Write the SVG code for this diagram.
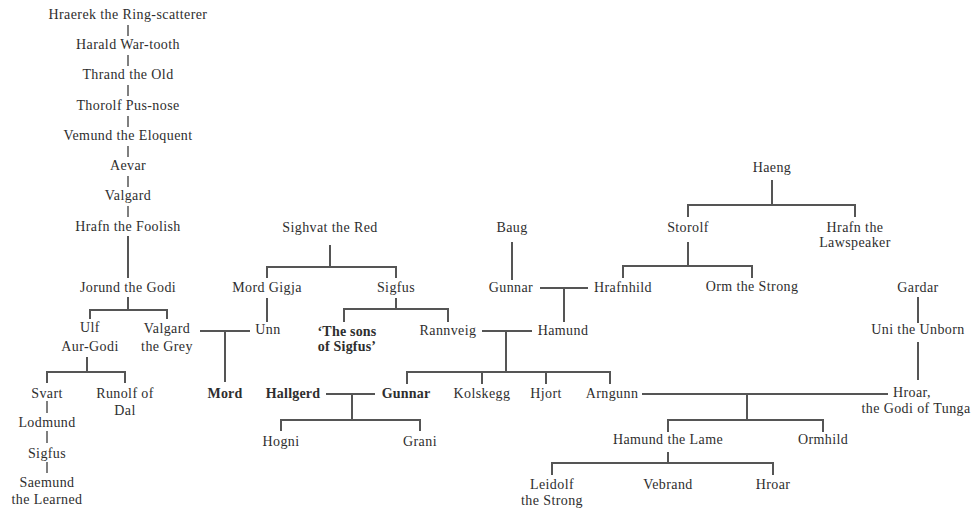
<svg xmlns="http://www.w3.org/2000/svg" width="974" height="510" viewBox="0 0 974 510">
<style>
text{font-family:"Liberation Serif","Times New Roman",serif;font-size:14px;letter-spacing:0.4px;fill:#2e2e2e;text-anchor:middle}
.b{font-weight:bold;letter-spacing:0.2px}
.c line{stroke:#555;stroke-width:2}
.c polyline{fill:none;stroke:#555;stroke-width:2}
.c .t{stroke-width:1.5}
</style>
<rect width="974" height="510" fill="#fff"/>
<g class="c" id="connectors">
<line class="t" x1="128" y1="25" x2="128" y2="36"/>
<line class="t" x1="128" y1="55" x2="128" y2="66"/>
<line class="t" x1="128" y1="85" x2="128" y2="96"/>
<line class="t" x1="128" y1="116" x2="128" y2="127"/>
<line class="t" x1="128" y1="146" x2="128" y2="157"/>
<line class="t" x1="128" y1="176" x2="128" y2="187"/>
<line class="t" x1="128" y1="206" x2="128" y2="217"/>
<line x1="128" y1="236" x2="128" y2="278"/>
<line x1="128" y1="297" x2="128" y2="310"/>
<polyline points="90,319 90,310 167,310 167,319"/>
<line x1="87" y1="357" x2="87" y2="372"/>
<polyline points="47,383 47,372 125,372 125,383"/>
<line class="t" x1="47" y1="401" x2="47" y2="413"/>
<line class="t" x1="47" y1="431" x2="47" y2="443"/>
<line class="t" x1="47" y1="462" x2="47" y2="473"/>
<line x1="200" y1="331" x2="250" y2="331"/>
<line x1="225" y1="331" x2="225" y2="382"/>
<line x1="267" y1="298" x2="267" y2="322"/>
<line x1="330" y1="245" x2="330" y2="267"/>
<polyline points="267,278 267,267 396,267 396,278"/>
<line x1="396" y1="298" x2="396" y2="309"/>
<polyline points="344,322 344,309 448,309 448,322"/>
<line x1="482" y1="331" x2="532" y2="331"/>
<line x1="506" y1="331" x2="506" y2="372"/>
<polyline points="407,384 407,372 610,372 610,384"/>
<line x1="482" y1="372" x2="482" y2="384"/>
<line x1="546" y1="372" x2="546" y2="384"/>
<line x1="326" y1="394" x2="375" y2="394"/>
<line x1="352" y1="394" x2="352" y2="420"/>
<polyline points="281,431 281,420 420,420 420,431"/>
<line x1="512" y1="242" x2="512" y2="280"/>
<line x1="540" y1="288" x2="588" y2="288"/>
<line x1="564" y1="288" x2="564" y2="322"/>
<line x1="688" y1="242" x2="688" y2="266"/>
<polyline points="623,278 623,266 752,266 752,278"/>
<line x1="772" y1="180" x2="772" y2="205"/>
<polyline points="688,217 688,205 855,205 855,217"/>
<line x1="918" y1="297" x2="918" y2="323"/>
<line x1="918" y1="342" x2="918" y2="380"/>
<line x1="642" y1="394" x2="888" y2="394"/>
<line x1="747" y1="394" x2="747" y2="420"/>
<polyline points="668,432 668,420 823,420 823,432"/>
<line x1="668" y1="452" x2="668" y2="463"/>
<polyline points="552,475 552,463 773,463 773,475"/>
</g>
<g id="hraerek"><text x="128" y="19">Hraerek the Ring-scatterer</text></g>
<g id="harald"><text x="128" y="49">Harald War-tooth</text></g>
<g id="thrand"><text x="128" y="79">Thrand the Old</text></g>
<g id="thorolf"><text x="128" y="110">Thorolf Pus-nose</text></g>
<g id="vemund"><text x="128" y="140">Vemund the Eloquent</text></g>
<g id="aevar"><text x="128" y="170">Aevar</text></g>
<g id="valgard1"><text x="128" y="200">Valgard</text></g>
<g id="hrafn-foolish"><text x="128" y="231">Hrafn the Foolish</text></g>
<g id="jorund"><text x="128" y="292">Jorund the Godi</text></g>
<g id="ulf"><text x="90" y="332">Ulf</text><text x="90" y="351">Aur-Godi</text></g>
<g id="valgard-grey"><text x="167" y="333">Valgard</text><text x="167" y="351">the Grey</text></g>
<g id="svart"><text x="47" y="398">Svart</text></g>
<g id="runolf"><text x="125" y="398">Runolf of</text><text x="125" y="415">Dal</text></g>
<g id="lodmund"><text x="47" y="427">Lodmund</text></g>
<g id="sigfus-l"><text x="47" y="458">Sigfus</text></g>
<g id="saemund"><text x="47" y="487">Saemund</text><text x="47" y="504">the Learned</text></g>
<g id="mord"><text class="b" x="225" y="398">Mord</text></g>
<g id="unn"><text x="268" y="334">Unn</text></g>
<g id="mord-gigja"><text x="267" y="292">Mord Gigja</text></g>
<g id="sighvat"><text x="330" y="232">Sighvat the Red</text></g>
<g id="sigfus"><text x="396" y="292">Sigfus</text></g>
<g id="sons"><text class="b" x="347" y="336">‘The sons</text><text class="b" x="347" y="351">of Sigfus’</text></g>
<g id="rannveig"><text x="448" y="335">Rannveig</text></g>
<g id="hamund"><text x="563" y="335">Hamund</text></g>
<g id="hallgerd"><text class="b" x="293" y="398">Hallgerd</text></g>
<g id="gunnar-b"><text class="b" x="406" y="398">Gunnar</text></g>
<g id="kolskegg"><text x="482" y="398">Kolskegg</text></g>
<g id="hjort"><text x="546" y="398">Hjort</text></g>
<g id="arngunn"><text x="612" y="398">Arngunn</text></g>
<g id="hogni"><text x="281" y="446">Hogni</text></g>
<g id="grani"><text x="420" y="446">Grani</text></g>
<g id="baug"><text x="512" y="232">Baug</text></g>
<g id="gunnar"><text x="511" y="292">Gunnar</text></g>
<g id="hrafnhild"><text x="623" y="292">Hrafnhild</text></g>
<g id="storolf"><text x="688" y="232">Storolf</text></g>
<g id="orm"><text x="752" y="291">Orm the Strong</text></g>
<g id="haeng"><text x="772" y="172">Haeng</text></g>
<g id="hrafn-law"><text x="855" y="232">Hrafn the</text><text x="855" y="247">Lawspeaker</text></g>
<g id="gardar"><text x="918" y="292">Gardar</text></g>
<g id="uni"><text x="918" y="334">Uni the Unborn</text></g>
<g id="hroar-godi"><text x="912" y="397">Hroar,</text><text x="916" y="413">the Godi of Tunga</text></g>
<g id="hamund-lame"><text x="668" y="444">Hamund the Lame</text></g>
<g id="ormhild"><text x="823" y="444">Ormhild</text></g>
<g id="leidolf"><text x="552" y="489">Leidolf</text><text x="552" y="505">the Strong</text></g>
<g id="vebrand"><text x="668" y="489">Vebrand</text></g>
<g id="hroar"><text x="773" y="489">Hroar</text></g>
</svg>
